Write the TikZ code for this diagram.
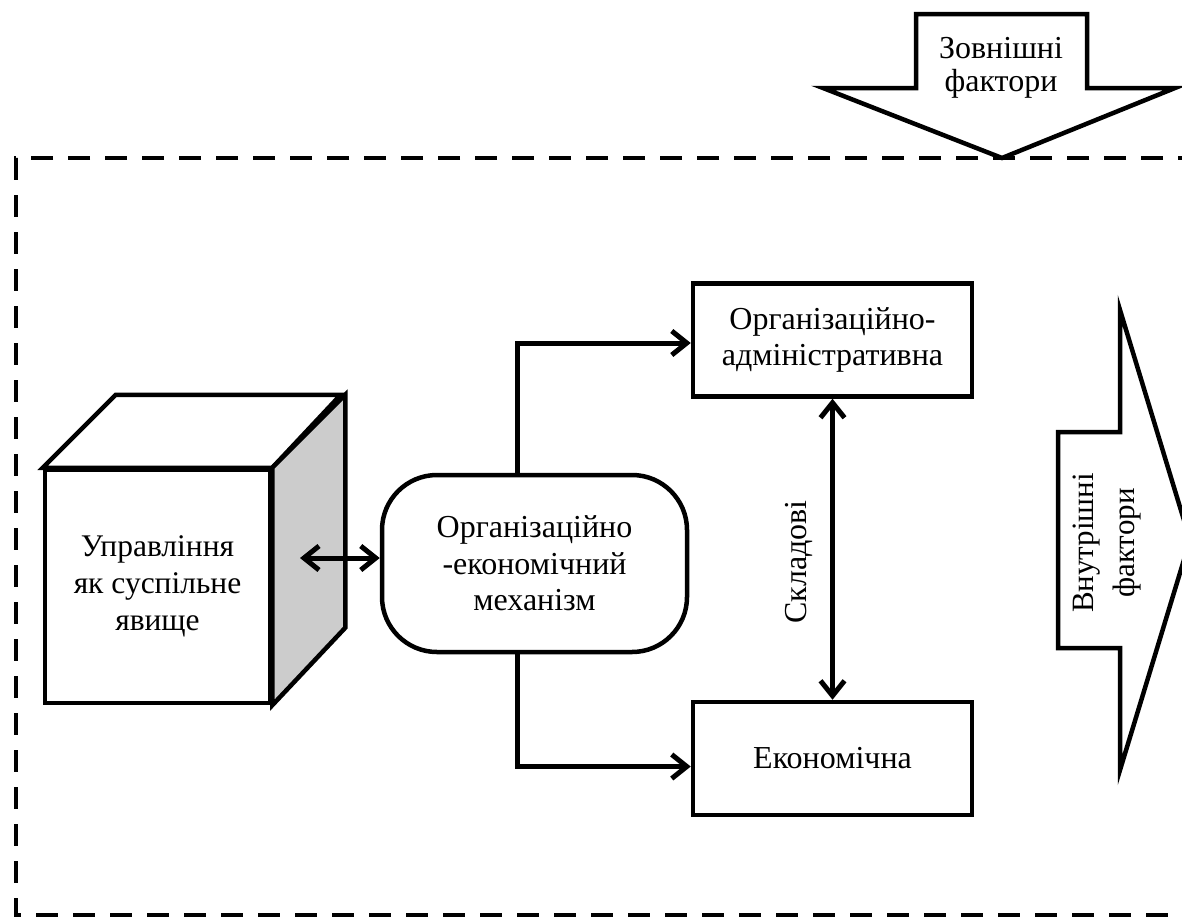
\documentclass[tikz,border=0pt]{standalone}
\usepackage{fontspec}
\setmainfont{Liberation Serif}
\usetikzlibrary{arrows.meta}
\newcommand\dfont{\fontsize{32}{36.5}\selectfont}
\newcommand\cfont{\fontsize{31.5}{37}\selectfont}
\newcommand\afont{\fontsize{32}{32.5}\selectfont}
\newcommand\rfont{\fontsize{31}{41}\selectfont}
\begin{document}
\begin{tikzpicture}[x=1pt,y=-1pt,
  frame/.style={line width=4.5pt, dash pattern=on 22pt off 15pt},
  outline/.style={draw, line width=4.5pt, line join=miter, fill=white},
  plainbox/.style={outline, minimum width=279pt, minimum height=113pt,
    inner sep=0pt, align=center, font=\dfont},
  mechbox/.style={outline, rounded corners=55pt, minimum width=305pt,
    minimum height=177pt, inner sep=0pt, align=center, font=\dfont},
  cubeface/.style={outline, minimum width=225pt, minimum height=233pt,
    inner sep=0pt, align=center, font=\cfont},
  conn/.style={line width=5pt},
  tip/.tip={Straight Barb[length=15pt,width=24pt]},
  lbl/.style={inner sep=0pt, align=center}
]
\useasboundingbox (0,0) rectangle (1182,918);

% dashed boundary of the system
\draw[frame] (1200,158) -- (16,158) -- (16,915) -- (1200,915);

% external factors: arrow pointing down onto the boundary
\draw[outline] (916,14) -- (1087,14) -- (1087,88) -- (1175,88)
  -- (1002,158) -- (823,88) -- (916,88) -- cycle;
\node[lbl, font=\afont] (ext) at (1001,68) {Зовнішні\\фактори};

% internal factors: arrow pointing right
\draw[outline] (1058,432) -- (1120,432) -- (1120,310) -- (1190,540)
  -- (1120,770) -- (1120,648) -- (1058,648) -- cycle;
\node[lbl, font=\rfont, rotate=90] (int) at (1107,543) {Внутрішні\\фактори};

% cube: front face as a node, top and shaded side faces
\node[cubeface] (cube) at (157.5,586.5) {Управління\\як суспільне\\явище};
\draw[outline] (cube.north west) -- ++(73,-73) -- ++(225,0)
  -- (cube.north east) -- cycle;
\draw[outline, fill=gray!40] (cube.north east) -- ++(73,-73) -- ++(0,233)
  -- (cube.south east) -- cycle;

% mechanism and its two components
\node[mechbox] (mech) at (534.5,563.5) {Організаційно\\-економічний\\механізм};
\node[plainbox] (orgadm) at (832.5,340) {Організаційно-\\адміністративна};
\node[plainbox] (econ) at (832.5,758.5) {Економічна};

% connectors
\coordinate (cubeside) at (300,558);
\draw[conn, tip-tip] (cubeside) -- (cubeside -| mech.west);
\draw[conn, -tip] ([xshift=-17.5pt]mech.north) |- ([yshift=-3pt]orgadm.west);
\draw[conn, -tip] ([xshift=-17.5pt]mech.south) |- ([yshift=-8pt]econ.west);
\draw[conn, tip-tip] (orgadm.south) -- (econ.north);
\node[lbl, font=\dfont, rotate=90] (parts) at (799,562) {Складові};
\end{tikzpicture}
\end{document}
